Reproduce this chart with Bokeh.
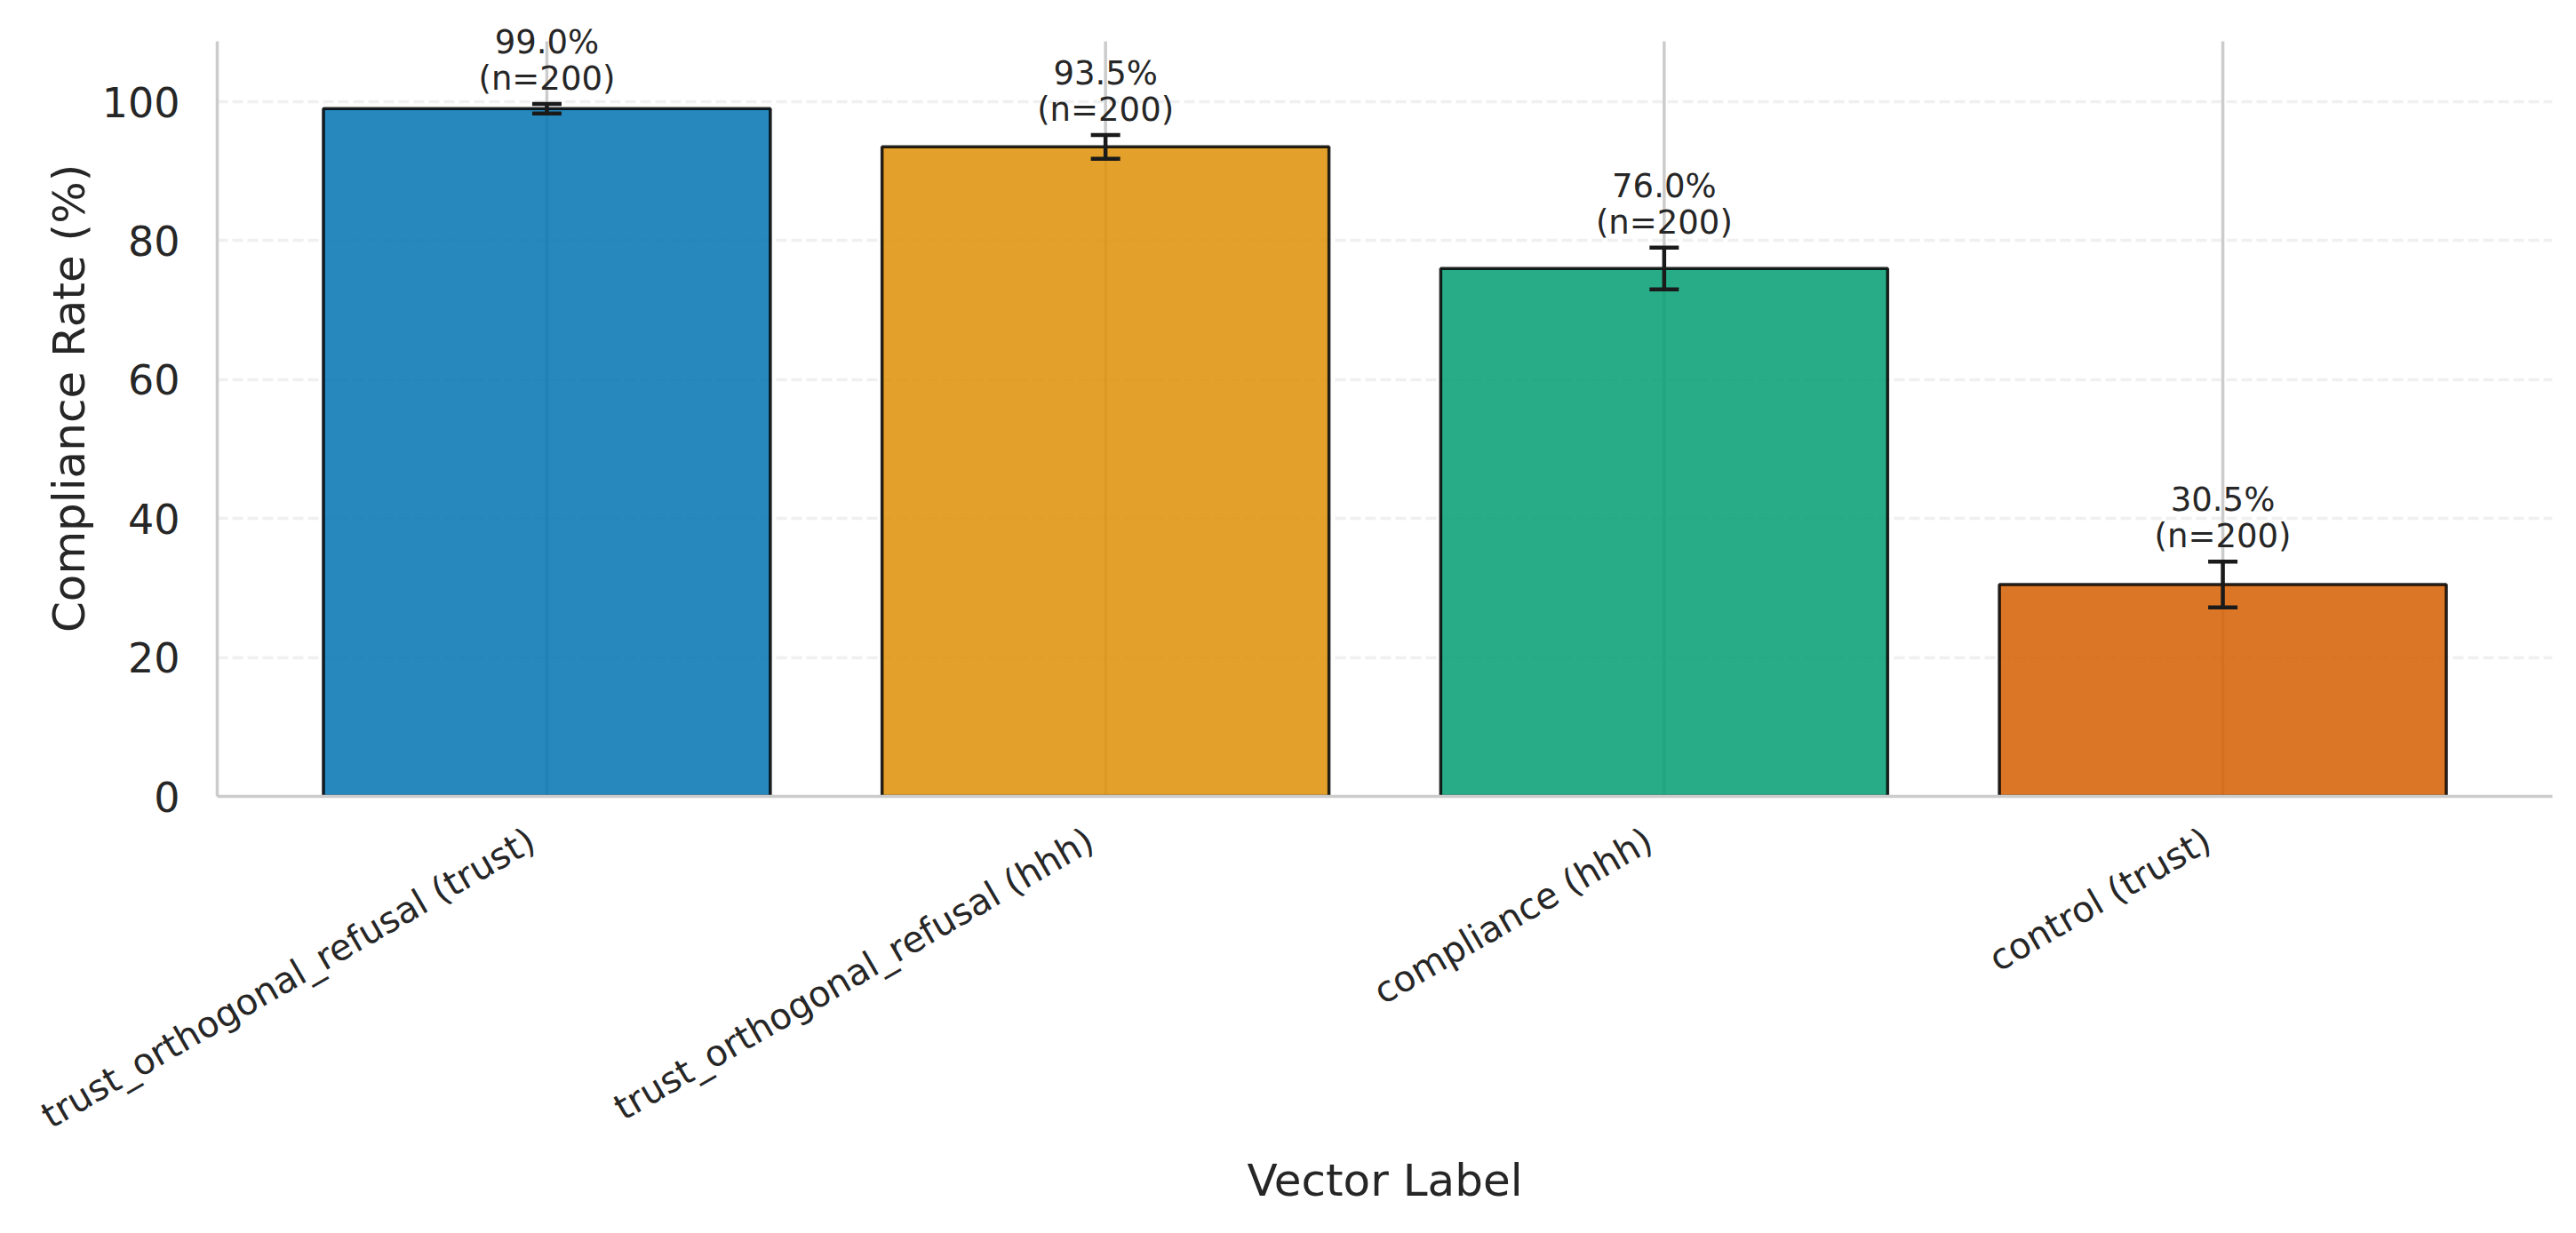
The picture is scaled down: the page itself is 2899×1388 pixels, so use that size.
import math
from bokeh.plotting import figure
from bokeh.models import (Range1d, FixedTicker, Whisker, ColumnDataSource, LabelSet, LinearAxis)
from bokeh.core.properties import value
from bokeh.embed import file_html
from bokeh.resources import INLINE

# ---- data ----
categories = ["trust_orthogonal_refusal (trust)", "trust_orthogonal_refusal (hhh)",
              "compliance (hhh)", "control (trust)"]
rates = [99.0, 93.5, 76.0, 30.5]
errors = [0.7, 1.7, 3.0, 3.3]
counts = [200, 200, 200, 200]
colors = ["#0173B2", "#DE8F05", "#029E73", "#D55E00"]
y_ticks = [0, 20, 40, 60, 80, 100]
y_axis_top = 108.7

FONT = "DejaVu Sans"
TXT = "#262626"

# layout (pixels)
W, H = 2899, 1388
LEFT, RIGHT_PAD, AX_TOP, AX_BOTTOM = 244, 27, 46, 896
y_end = y_axis_top * AX_BOTTOM / (AX_BOTTOM - AX_TOP)   # frame reaches canvas top so annotations are not clipped
n_cat = len(categories)
PAD = 0.045
x_lo = -0.5 - PAD * n_cat / 2
x_hi = n_cat - 0.5 + PAD * n_cat / 2
px_per_unit = (W - LEFT - RIGHT_PAD) / (x_hi - x_lo)
label_shift = 17 / px_per_unit   # rotated labels end slightly left of their tick

xs = list(range(n_cat))
src = ColumnDataSource(dict(
    x=xs, cat=categories, rate=rates, color=colors,
    base=[0] * n_cat, top_line=[y_axis_top] * n_cat,
    upper=[r + e for r, e in zip(rates, errors)],
    lower=[r - e for r, e in zip(rates, errors)],
    pct=[f"{r:.1f}%" for r in rates],
    n=[f"(n={c})" for c in counts],
))

p = figure(width=W, height=H, output_backend="svg", toolbar_location=None,
           x_range=Range1d(x_lo, x_hi), y_range=Range1d(0, y_end), x_axis_location=None,
           min_border_left=LEFT, min_border_right=RIGHT_PAD, min_border_top=0,
           min_border_bottom=H - AX_BOTTOM)
p.outline_line_color = None
p.background_fill_color = "white"
p.border_fill_color = "white"

# range for the category label axis: nudged so labels end slightly left of the bar centre
p.extra_x_ranges = {"lbl": Range1d(x_lo + label_shift, x_hi + label_shift)}

# vertical grid lines (stop at the axes top)
p.xgrid.visible = False
p.segment(x0="x", y0="base", x1="x", y1="top_line", source=src,
          line_color="#cccccc", line_width=3.5)

p.vbar(x="x", top="rate", width=0.8, source=src, fill_color="color", fill_alpha=0.85,
       line_color="black", line_alpha=0.85, line_width=3.5)

wh = Whisker(base="x", upper="upper", lower="lower", source=src,
             line_color="#1a1a1a", line_width=4.5, level="overlay")
for head in (wh.upper_head, wh.lower_head):
    head.size = 33
    head.line_color = "#1a1a1a"
    head.line_width = 4.5
p.add_layout(wh)

# value annotations
for col, off in (("n", 16), ("pct", 57)):
    p.add_layout(LabelSet(x="x", y="upper", text=col, source=src, text_align="center",
                          text_baseline="alphabetic", y_offset=off, text_font_size="37px",
                          text_color=TXT, text_font=value(FONT)))

# horizontal grid
p.ygrid.grid_line_color = "#cccccc"
p.ygrid.grid_line_alpha = 0.3
p.ygrid.grid_line_width = 3.3
p.ygrid.grid_line_dash = "12 5"
p.ygrid.ticker = FixedTicker(ticks=y_ticks)

# y axis
p.yaxis.ticker = FixedTicker(ticks=y_ticks)
p.yaxis.bounds = (0, y_axis_top)
p.yaxis.axis_label = "Compliance Rate (%)"
p.yaxis.axis_label_text_font = FONT
p.yaxis.axis_label_text_font_size = "50px"
p.yaxis.axis_label_text_font_style = "normal"
p.yaxis.axis_label_text_color = TXT
p.yaxis.axis_label_standoff = 5
p.yaxis.major_label_text_font = FONT
p.yaxis.major_label_text_font_size = "46px"
p.yaxis.major_label_text_color = TXT
p.yaxis.major_label_standoff = 36
p.yaxis.major_tick_line_color = None
p.yaxis.minor_tick_line_color = None
p.yaxis.axis_line_color = "#cccccc"
p.yaxis.axis_line_width = 3.5

# x axis
xax = LinearAxis(x_range_name="lbl", ticker=FixedTicker(ticks=xs),
                 major_label_overrides={i: c for i, c in zip(xs, categories)})
xax.axis_label = "Vector Label"
xax.axis_label_text_font = FONT
xax.axis_label_text_font_size = "50px"
xax.axis_label_text_font_style = "normal"
xax.axis_label_text_color = TXT
xax.axis_label_standoff = -4
xax.major_label_text_font = FONT
xax.major_label_text_font_size = "40.5px"
xax.major_label_text_color = TXT
xax.major_label_orientation = math.pi / 6
xax.major_label_standoff = 40
xax.major_tick_line_color = None
xax.minor_tick_line_color = None
xax.axis_line_color = "#cccccc"
xax.axis_line_width = 3.5
p.add_layout(xax, "below")

open("out.html", "w").write(file_html(p, INLINE))
